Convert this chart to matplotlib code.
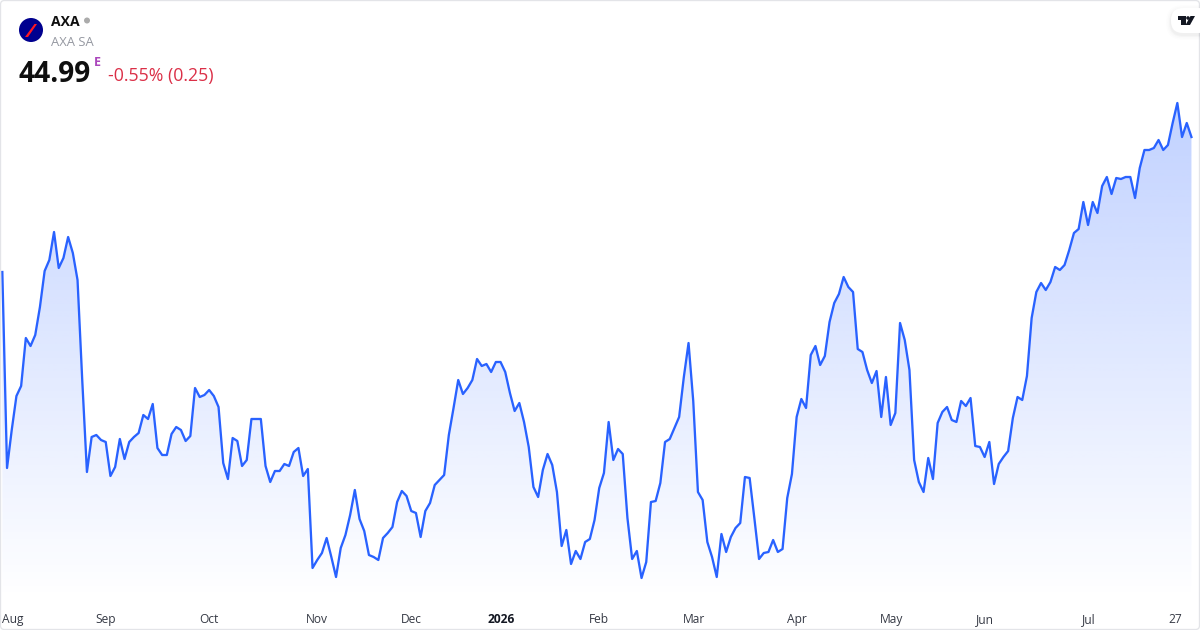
import numpy as np
import matplotlib
matplotlib.use("Agg")
import matplotlib.pyplot as plt
from matplotlib.patches import FancyBboxPatch, Circle, Polygon

plt.rcParams['font.family'] = ['Open Sans', 'DejaVu Sans']

symbol = "AXA"
company = "AXA SA"
last_price = "44.99"
change_text = "-0.55% (0.25)"

prices = [
    42.29, 38.37, 39.13, 39.81, 40.01, 40.97, 40.81, 41.03, 41.59, 42.31, 42.53, 43.09, 42.37, 42.57, 42.99, 42.67,
    42.13, 40.13, 38.29, 38.99, 39.03, 38.93, 38.89, 38.21, 38.39, 38.95, 38.55, 38.89, 38.99, 39.07, 39.43, 39.35,
    39.65, 38.77, 38.63, 38.63, 39.05, 39.19, 39.13, 38.91, 39.01, 39.97, 39.79, 39.83, 39.93, 39.81, 39.59, 38.47,
    38.15, 38.97, 38.91, 38.41, 38.53, 39.35, 39.35, 39.35, 38.41, 38.09, 38.31, 38.31, 38.45, 38.41, 38.69, 38.77,
    38.21, 38.35, 36.37, 36.53, 36.67, 36.97, 36.59, 36.19, 36.77, 37.03, 37.43, 37.93, 37.35, 37.11, 36.63, 36.59,
    36.53, 36.97, 37.07, 37.19, 37.69, 37.91, 37.81, 37.51, 37.47, 36.99, 37.51, 37.67, 38.03, 38.13, 38.23, 39.03,
    39.57, 40.13, 39.85, 39.97, 40.13, 40.55, 40.41, 40.45, 40.29, 40.49, 40.49, 40.29, 39.87, 39.51, 39.67, 39.29,
    38.79, 37.99, 37.79, 38.33, 38.65, 38.43, 37.89, 36.81, 37.13, 36.45, 36.71, 36.55, 36.89, 36.95, 37.33, 37.97,
    38.27, 39.29, 38.53, 38.75, 38.65, 37.37, 36.55, 36.71, 36.17, 36.49, 37.69, 37.71, 38.07, 38.89, 38.95, 39.17,
    39.39, 40.19, 40.87, 39.71, 37.89, 37.73, 36.89, 36.59, 36.19, 37.05, 36.69, 36.99, 37.17, 37.27, 38.19, 38.17,
    37.37, 36.55, 36.67, 36.69, 36.93, 36.69, 36.75, 37.77, 38.25, 39.39, 39.75, 39.57, 40.63, 40.81, 40.43, 40.61,
    41.29, 41.67, 41.85, 42.19, 41.99, 41.89, 40.75, 40.69, 40.33, 40.07, 40.31, 39.39, 40.19, 39.23, 39.47, 41.27,
    40.93, 40.33, 38.53, 38.09, 37.89, 38.57, 38.15, 39.27, 39.49, 39.59, 39.33, 39.29, 39.71, 39.61, 39.77, 38.81,
    38.79, 38.59, 38.89, 38.05, 38.45, 38.59, 38.71, 39.37, 39.79,
    39.73, 40.21, 41.37, 41.89, 42.07, 41.93, 42.09, 42.39, 42.33, 42.43, 42.73, 43.07, 43.15, 43.69, 43.23, 43.69,
    43.47, 44.01, 44.19, 43.85, 44.17, 44.15, 44.19, 44.19, 43.77, 44.37, 44.73, 44.73, 44.77, 44.93, 44.73, 44.83,
    45.27, 45.67, 44.99, 45.27, 44.99,
]
tick_labels = ["Aug", "Sep", "Oct", "Nov", "Dec", "2026", "Feb", "Mar", "Apr", "May", "Jun", "Jul", "27"]
tick_index = [2.3, 22, 44, 67, 87, 106.1, 127, 147.2, 169.1, 189.1, 209.1, 231.2, 249.5]

LINE = "#2962FF"
PX = 0.72  # points per pixel at dpi 100

fig = plt.figure(figsize=(12, 6.3), dpi=100, facecolor="white")
# plot area spans the full width and from the top down to pixel row 600
ax = fig.add_axes([0, 30 / 630, 1, 600 / 630])
ax.set_facecolor("none")
for s in ax.spines.values():
    s.set_visible(False)

x = np.arange(len(prices))
y = np.array(prices)
xlim = (-0.496, 254.82)
ylim = (35.73, 47.73)

# gradient area under the line
rgb = matplotlib.colors.to_rgb(LINE)
grad = np.zeros((256, 2, 4))
grad[..., 0], grad[..., 1], grad[..., 2] = rgb
grad[..., 3] = np.linspace(0.29, 0.0, 256)[:, None]
top = y.max()
im = ax.imshow(grad, extent=(x[0], x[-1], ylim[0], top), origin="upper", aspect="auto", zorder=1, interpolation="bilinear")
clip = ax.fill_between(x, y, ylim[0], color="none", lw=0)
im.set_clip_path(clip.get_paths()[0], transform=ax.transData)

ax.plot(x, y, color=LINE, lw=2.3 * PX, solid_joinstyle="round", zorder=3)
ax.set_xlim(*xlim)
ax.set_ylim(*ylim)
ax.set_yticks([])
ax.set_xticks(tick_index)
ax.set_xticklabels(tick_labels, fontsize=12 * PX, color="#363A45")
ax.tick_params(axis="x", length=0, pad=23 * PX)
for lab in ax.get_xticklabels():
    lab.set_verticalalignment("baseline")
    if lab.get_text() == "2026":
        lab.set_fontweight("bold")
        lab.set_color("#131722")

# header, border and logos in pixel coordinates
ov = fig.add_axes([0, 0, 1, 1], facecolor="none")
ov.set_xlim(0, 1200)
ov.set_ylim(630, 0)
ov.axis("off")

ov.add_patch(FancyBboxPatch((0.5, 0.5), 1199, 629, boxstyle="round,pad=0,rounding_size=4",
                            fc="none", ec="#E3E4E8", lw=1.3 * PX))

ov.add_patch(Circle((31, 30), 12, fc="#00008F", ec="none"))
ov.add_patch(Polygon([(34.5, 24), (37, 24), (28, 37), (25, 37)], closed=True, fc="#FF1721", ec="none"))
ov.text(51, 26, symbol, fontsize=14 * PX, fontweight="bold", color="#0F0F0F", va="baseline", ha="left")
ov.add_patch(Circle((87, 20.5), 3, fc="#ABABAB", ec="none"))
ov.text(51, 45.5, company, fontsize=13 * PX, color="#9598A1", va="baseline", ha="left")
ov.text(18.5, 82, last_price, fontsize=28 * PX, fontweight="bold", color="#0F0F0F", va="baseline", ha="left")
ov.text(93.5, 66, "E", fontsize=12.5 * PX, fontweight="bold", color="#AB47BC", va="baseline", ha="left")
ov.text(108, 81, change_text, fontsize=17.8 * PX, color="#DB2F47", va="baseline", ha="left")

# TradingView badge
for pad, a in [(5, 0.008), (3.5, 0.012), (2, 0.018), (1, 0.02)]:
    ov.add_patch(FancyBboxPatch((1171 - pad, 8 - pad + 2), 40 + 2 * pad, 25 + 2 * pad,
                                boxstyle="round,pad=0,rounding_size=%g" % (12 + pad),
                                fc="black", ec="none", alpha=a))
ov.add_patch(FancyBboxPatch((1171, 8), 40, 25, boxstyle="round,pad=0,rounding_size=12", fc="white", ec="none"))
ov.add_patch(Polygon([(1177.5, 16), (1186, 16), (1186, 25), (1181, 25), (1181, 20), (1177.5, 20)],
                     closed=True, fc="#131722", ec="none"))
ov.add_patch(Circle((1188, 18), 1.8, fc="#131722", ec="none"))
ov.add_patch(Polygon([(1190.5, 16), (1195, 16), (1190, 25), (1185.5, 25)], closed=True, fc="#131722", ec="none"))
ov.plot([1199.5, 1199.5], [0, 630], color="#E3E4E8", lw=1 * PX)

fig.savefig("out.png", dpi=100, facecolor="white")
